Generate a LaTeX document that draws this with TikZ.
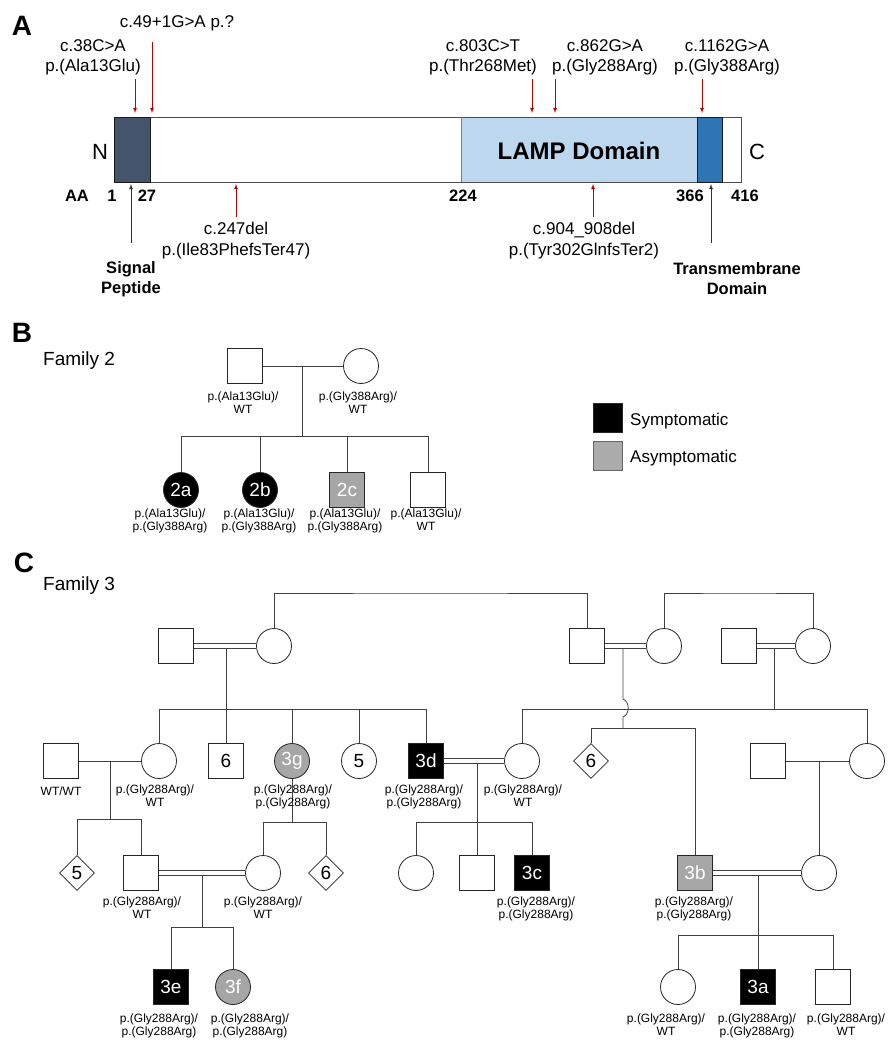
\documentclass[tikz,border=0pt]{standalone}
\usepackage{fontspec}
\setmainfont{Liberation Sans}
\usepackage{tikz}
\usetikzlibrary{shapes.geometric}

\definecolor{sigfill}{HTML}{44546A}
\definecolor{lampfill}{HTML}{BDD7EE}
\definecolor{tmfill}{HTML}{2E75B6}
\definecolor{mutred}{HTML}{C00000}

\begin{document}
\begin{tikzpicture}[x=1pt, y=-1pt,
        >=latex, % arrow tips
        pline/.style={draw=black!75, line width=0.8pt},
        cons/.style={pline, double, double distance=3.6pt},
        person/.style={draw=black!85, line width=0.8pt, fill=white, inner sep=0pt,
            minimum size=35pt, font=\fontsize{19}{21}\selectfont},
        male/.style={person, rectangle},
        female/.style={person, circle},
        unkn/.style={person, diamond, aspect=1},
        aff/.style={fill=black, text=white},
        carr/.style={fill=black!35, text=white},
        geno/.style={anchor=north, align=center, inner sep=0pt, font=\fontsize{12}{13}\selectfont},
        mtxt/.style={anchor=north, align=center, inner sep=0pt, font=\fontsize{17}{20.5}\selectfont},
        bold16/.style={inner sep=0pt, align=center, font=\bfseries\fontsize{16.5}{20.5}\selectfont},
        panel/.style={inner sep=0pt, font=\bfseries\fontsize{28}{30}\selectfont},
        fam/.style={anchor=base west, inner sep=0pt, font=\fontsize{19}{21}\selectfont},
        mut/.style={->, draw=mutred, line width=0.8pt},
        dom/.style={->, draw=black!80, line width=0.8pt}
        ]
    \useasboundingbox (0,0) rectangle (888,1041);

    % A: protein
    \fill[sigfill]  (114,117) rectangle (150,182);
    \fill[lampfill] (461,117) rectangle (697,182);
    \fill[tmfill]   (697,117) rectangle (722,182);
    \draw[black!70, line width=1pt] (114,117) rectangle (741,182);
    \draw[black!50, line width=1pt] (461,117) -- (461,182);
    \draw[black!90, line width=1pt] (114,117) rectangle (150,182)
                                    (697,117) rectangle (722,182);

    \node[panel] (pA) at (22,26) {A};
    \node[inner sep=0pt, font=\fontsize{22}{24}\selectfont] (nterm) at (100,152) {N};
    \node[inner sep=0pt, font=\fontsize{22}{24}\selectfont] (cterm) at (757,152) {C};
    \node[inner sep=0pt, font=\bfseries\fontsize{24}{26}\selectfont] (lamp) at (579,151) {LAMP Domain};

    \node[bold16] (aa)    at (77,196)  {AA};
    \node[bold16] (aa1)   at (112,196) {1};
    \node[bold16] (aa27)  at (147,196) {27};
    \node[bold16] (aa224) at (463,196) {224};
    \node[bold16] (aa366) at (690,196) {366};
    \node[bold16] (aa416) at (745,196) {416};

    \node[mtxt] (t38)   at (93,39)   {c.38C>A\\p.(Ala13Glu)};
    \node[mtxt] (t49)   at (177,15)  {c.49+1G>A p.?};
    \node[mtxt] (t803)  at (483,39)  {c.803C>T\\p.(Thr268Met)};
    \node[mtxt] (t862)  at (605,39)  {c.862G>A\\p.(Gly288Arg)};
    \node[mtxt] (t1162) at (727,39)  {c.1162G>A\\p.(Gly388Arg)};
    \node[mtxt] (t247)  at (236,222) {c.247del\\p.(Ile83PhefsTer47)};
    \node[mtxt] (t904)  at (584,222) {c.904\_908del\\p.(Tyr302GlnfsTer2)};
    \node[bold16, anchor=north] (sig) at (131,261) {Signal\\Peptide};
    \node[bold16, anchor=north] (tm)  at (737,262) {Transmembrane\\Domain};

    % Pfeile
    \coordinate (a38) at (135,79);    \coordinate (b38) at (135,113);
    \coordinate (a49) at (152,42);    \coordinate (b49) at (152,113);
    \coordinate (a803) at (532,79);   \coordinate (b803) at (532,113);
    \coordinate (a862) at (555,79);   \coordinate (b862) at (555,113);
    \coordinate (a1162) at (702,79);  \coordinate (b1162) at (702,113);
    \coordinate (a247) at (236,217);  \coordinate (b247) at (236,184);
    \coordinate (a904) at (593,217);  \coordinate (b904) at (593,184);
    \coordinate (asig) at (131,243);  \coordinate (bsig) at (131,184);
    \coordinate (atm) at (711,243);   \coordinate (btm) at (711,184);
    \draw[mut] (a38) -- (b38);
    \draw[mut] (a49) -- (b49);
    \draw[mut] (a803) -- (b803);
    \draw[mut] (a862) -- (b862);
    \draw[mut] (a1162) -- (b1162);
    \draw[mut] (a247) -- (b247);
    \draw[mut] (a904) -- (b904);
    \draw[dom] (asig) -- (bsig);
    \draw[dom] (atm) -- (btm);

    % B: Family 2
    \node[panel] (pB) at (22,333) {B};
    \node[fam] (fam2) at (43,365) {Family 2};

    \node[male]   (f2fa) at (245,366) {};
    \node[female] (f2mo) at (361,366) {};
    \node[female, aff]  (f2a) at (181,490) {2a};
    \node[female, aff]  (f2b) at (260,490) {2b};
    \node[male, carr]   (f2c) at (347,490) {2c};
    \node[male]         (f2d) at (428,490) {};

    \coordinate (m2) at (302,366);
    \coordinate (s2) at (302,436);
    \draw[pline] (f2fa) -- (f2mo);
    \draw[pline] (m2) -- (s2);
    \draw[pline] (s2) -| (f2a.north);
    \draw[pline] (s2) -| (f2b.north);
    \draw[pline] (s2) -| (f2c.north);
    \draw[pline] (s2) -| (f2d.north);

    \node[geno] (g2fa) at (243,392) {p.(Ala13Glu)/\\WT};
    \node[geno] (g2mo) at (358,392) {p.(Gly388Arg)/\\WT};
    \node[geno] (g2a)  at (170,509) {p.(Ala13Glu)/\\p.(Gly388Arg)};
    \node[geno] (g2b)  at (259,509) {p.(Ala13Glu)/\\p.(Gly388Arg)};
    \node[geno] (g2c)  at (345,509) {p.(Ala13Glu)/\\p.(Gly388Arg)};
    \node[geno] (g2d)  at (426,509) {p.(Ala13Glu)/\\WT};

    % Legende
    \node[draw=black!85, fill=black, minimum size=29pt, inner sep=0pt] (legS) at (607.5,417.5) {};
    \node[draw=black!60, fill=black!33, minimum size=29pt, inner sep=0pt] (legA) at (607.5,455.5) {};
    \node[anchor=base west, inner sep=0pt, font=\fontsize{17}{19}\selectfont] (legSt) at (630,425) {Symptomatic};
    \node[anchor=base west, inner sep=0pt, font=\fontsize{17}{19}\selectfont] (legAt) at (630,462) {Asymptomatic};

    % C: Family 3
    \node[panel] (pC) at (24,563) {C};
    \node[fam] (fam3) at (43,590) {Family 3};

    % Generation I
    \node[male]   (g1a) at (176,646) {};
    \node[female] (g1b) at (274,646) {};
    \node[male]   (g1c) at (587,646) {};
    \node[female] (g1d) at (664,646) {};
    \node[male]   (g1e) at (739,646) {};
    \node[female] (g1f) at (813,646) {};

    % Generation II
    \node[male]        (h1)  at (61,761)  {};
    \node[female]      (h2)  at (159,761) {};
    \node[male]        (h3)  at (226,761) {6};
    \node[female, carr] (h4) at (292,761) {3g};
    \node[female]      (h5)  at (359,761) {5};
    \node[male, aff]   (h6)  at (426,761) {3d};
    \node[female]      (h7)  at (522,761) {};
    \node[unkn]        (h8)  at (591,761) {6};
    \node[male]        (h9)  at (768,761) {};
    \node[female]      (h10) at (867,761) {};

    % Generation III
    \node[unkn]        (k1) at (77,873)  {5};
    \node[male]        (k2) at (141,873) {};
    \node[female]      (k3) at (263,873) {};
    \node[unkn]        (k4) at (326,873) {6};
    \node[female]      (k5) at (416,873) {};
    \node[male]        (k6) at (477,873) {};
    \node[male, aff]   (k7) at (532,873) {3c};
    \node[male, carr]  (k8) at (695,873) {3b};
    \node[female]      (k9) at (819,873) {};

    % Generation IV
    \node[male, aff]    (n1) at (171,987) {3e};
    \node[female, carr] (n2) at (233,987) {3f};
    \node[female]       (n3) at (678,987) {};
    \node[male, aff]    (n4) at (758,987) {3a};
    \node[male]         (n5) at (833,987) {};

    % Linien oben
    \coordinate (t1) at (430,593);
    \coordinate (t2) at (740,593);
    \draw[pline] (g1b.north) |- (t1) -| (g1c.north);
    \draw[pline] (g1d.north) |- (t2) -| (g1f.north);

    % Ehen
    \draw[cons]  (g1a) -- (g1b);
    \draw[cons]  (g1c) -- (g1d);
    \draw[cons]  (g1e) -- (g1f);
    \draw[pline] (h1) -- (h2);
    \draw[cons]  (h6) -- (h7);
    \draw[pline] (h9) -- (h10);
    \draw[cons]  (k2) -- (k3);
    \draw[cons]  (k8) -- (k9);

    % Nachkommen
    \coordinate (d1) at (226,648.2);  \coordinate (s1) at (226,709);
    \draw[pline] (d1) -- (s1);
    \draw[pline] (s1) -| (h2.north);
    \draw[pline] (s1) -| (h3.north);
    \draw[pline] (s1) -| (h4.north);
    \draw[pline] (s1) -| (h5.north);
    \draw[pline] (s1) -| (h6.north);

    \coordinate (d3) at (774,648.2);  \coordinate (s3) at (774,709);
    \draw[pline] (d3) -- (s3);
    \draw[pline] (s3) -| (h7.north);
    \draw[pline] (s3) -| (h10.north);

    \coordinate (d2) at (623,648.2);  \coordinate (s2c) at (623,728);
    \draw[pline] (d2) -- (623,699) .. controls (630,702) and (630,714) .. (623,717) -- (s2c);
    \draw[pline] (s2c) -| (h8.north);
    \draw[pline] (s2c) -| (k8.north);

    \coordinate (d4) at (110,761);    \coordinate (s4) at (110,819);
    \draw[pline] (d4) -- (s4);
    \draw[pline] (s4) -| (k1.north);
    \draw[pline] (s4) -| (k2.north);

    \coordinate (s6) at (292,822);
    \draw[pline] (h4.south) -- (s6);
    \draw[pline] (s6) -| (k3.north);
    \draw[pline] (s6) -| (k4.north);

    \coordinate (d5) at (477,763.2);  \coordinate (s5) at (477,822);
    \draw[pline] (d5) -- (s5);
    \draw[pline] (s5) -| (k5.north);
    \draw[pline] (s5) -| (k6.north);
    \draw[pline] (s5) -| (k7.north);

    \coordinate (d7) at (819,761);
    \draw[pline] (d7) -- (k9.north);

    \coordinate (d8) at (202,875.2);  \coordinate (s8) at (202,927);
    \draw[pline] (d8) -- (s8);
    \draw[pline] (s8) -| (n1.north);
    \draw[pline] (s8) -| (n2.north);

    \coordinate (d9) at (758,875.2);  \coordinate (s9) at (758,935);
    \draw[pline] (d9) -- (s9);
    \draw[pline] (s9) -| (n3.north);
    \draw[pline] (s9) -| (n4.north);
    \draw[pline] (s9) -| (n5.north);

    % Genotypen
    \node[geno] (gh1) at (61,787)  {WT/WT};
    \node[geno] (gh2) at (155,785) {p.(Gly288Arg)/\\WT};
    \node[geno] (gh4) at (293,785) {p.(Gly288Arg)/\\p.(Gly288Arg)};
    \node[geno] (gh6) at (424,785) {p.(Gly288Arg)/\\p.(Gly288Arg)};
    \node[geno] (gh7) at (523,785) {p.(Gly288Arg)/\\WT};
    \node[geno] (gk2) at (142,897) {p.(Gly288Arg)/\\WT};
    \node[geno] (gk3) at (263,897) {p.(Gly288Arg)/\\WT};
    \node[geno] (gk7) at (536,897) {p.(Gly288Arg)/\\p.(Gly288Arg)};
    \node[geno] (gk8) at (694,897) {p.(Gly288Arg)/\\p.(Gly288Arg)};
    \node[geno] (gn1) at (159,1014) {p.(Gly288Arg)/\\p.(Gly288Arg)};
    \node[geno] (gn2) at (250,1014) {p.(Gly288Arg)/\\p.(Gly288Arg)};
    \node[geno] (gn3) at (666,1014) {p.(Gly288Arg)/\\WT};
    \node[geno] (gn4) at (757,1014) {p.(Gly288Arg)/\\p.(Gly288Arg)};
    \node[geno] (gn5) at (846,1014) {p.(Gly288Arg)/\\WT};

\end{tikzpicture}
\end{document}
